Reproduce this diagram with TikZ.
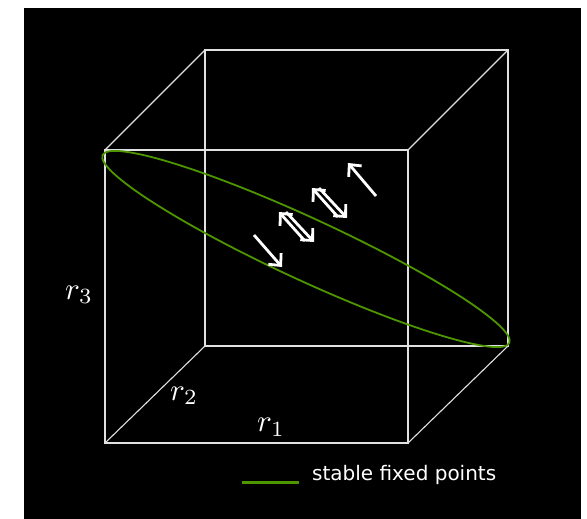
\documentclass[tikz,border=0pt]{standalone}
\usepackage{fontspec}
\newfontfamily\legendfont{DejaVu Sans}
\usetikzlibrary{arrows.meta}
\definecolor{fpgreen}{RGB}{78,150,0}
\definecolor{edgegray}{RGB}{225,225,225}
\tikzset{
  cubeedge/.style={draw=edgegray, line width=1.1pt},
  fparrow/.style={draw=white, line width=2.8pt, -{Straight Barb[length=9pt,width=17pt,line width=2.8pt]}},
  axislabel/.style={text=white, scale=3.1, transform shape, inner sep=0pt},
  fpline/.style={draw=fpgreen, line width=1.8pt}
}
\begin{document}
\begin{tikzpicture}[x=1pt,y=-1pt]
\useasboundingbox (0,0) rectangle (587,519);
\fill[white] (0,0) rectangle (587,519);
\fill[black] (24,8) rectangle (581,519);
% cube corners
\coordinate (f1) at (105,443); \coordinate (f2) at (408,443);
\coordinate (f3) at (408,150); \coordinate (f4) at (105,150);
\coordinate (b1) at (205,346); \coordinate (b2) at (508,346);
\coordinate (b3) at (508,50);  \coordinate (b4) at (205,50);
\draw[cubeedge] (f1) -- (f2) -- (f3) -- (f4) -- cycle;
\draw[cubeedge] (b1) -- (b2) -- (b3) -- (b4) -- cycle;
\draw[cubeedge] (f1) -- (b1);
\draw[cubeedge] (f2) -- (b2);
\draw[cubeedge] (f3) -- (b3);
\draw[cubeedge] (f4) -- (b4);
% ellipse of stable fixed points
\coordinate (ec) at (306,249);
\draw[fpline, rotate around={-24.8:(ec)}] (ec) ellipse [x radius=224, y radius=31];
% flow arrows
\coordinate (a1s) at (376,196); \coordinate (a1e) at (348,163);
\draw[fparrow] (a1s) -- (a1e);
\coordinate (a2s) at (338,217); \coordinate (a2e) at (312,188);
\coordinate (a3s) at (319,188); \coordinate (a3e) at (347,218);
\draw[fparrow] (a2s) -- (a2e);
\draw[fparrow] (a3s) -- (a3e);
\coordinate (a4s) at (305,241); \coordinate (a4e) at (279,212);
\coordinate (a5s) at (286,212); \coordinate (a5e) at (314,242);
\draw[fparrow] (a4s) -- (a4e);
\draw[fparrow] (a5s) -- (a5e);
\coordinate (a6s) at (254,235); \coordinate (a6e) at (282,267);
\draw[fparrow] (a6s) -- (a6e);
% axis labels
\node[axislabel] (r3) at (79,295) {$r_3$};
\node[axislabel] (r2) at (184,396) {$r_2$};
\node[axislabel] (r1) at (271,427) {$r_1$};
% legend
\coordinate (lg1) at (242,482); \coordinate (lg2) at (299,482);
\draw[draw=fpgreen, line width=3pt] (lg1) -- (lg2);
\node[text=white, anchor=west, inner sep=0pt, font=\legendfont\fontsize{20}{24}\selectfont] (legend) at (312,475) {stable fixed points};
\end{tikzpicture}
\end{document}
